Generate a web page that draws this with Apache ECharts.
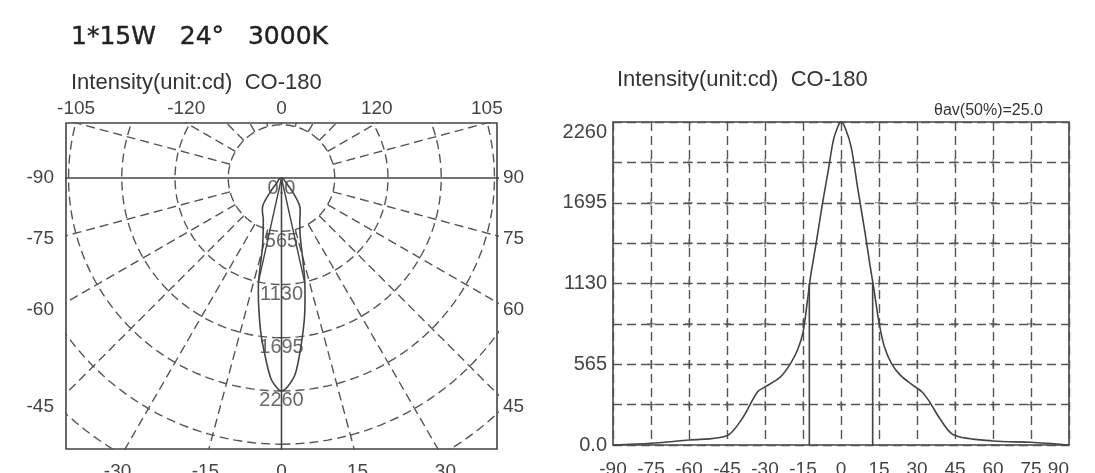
<!DOCTYPE html>
<html>
<head>
<meta charset="utf-8">
<script src="https://cdn.jsdelivr.net/npm/echarts@6/dist/echarts.min.js"></script>
<style>
html,body{margin:0;padding:0;background:#fff;}
#chart{width:1095px;height:473px;}
</style>
</head>
<body>
<div id="chart"></div>
<script>
// ---------- data ----------
const titleText = '1*15W   24°   3000K';
const subtitleText = 'Intensity(unit:cd)  CO-180';
const beamText = 'θav(50%)=25.0';

// luminous intensity distribution (C0-180 plane), angle in degrees, intensity in cd
const anglesDeg = [-90, -75, -60, -45, -39, -33, -30, -24, -20, -17, -15, -13.5, -12, -10, -7.5, -5, -3, -1, 0,
  1.5, 4, 6.5, 9.5, 11.5, 13, 15, 17, 20, 23.5, 27.5, 32, 35, 39, 44.5, 60, 75, 90];
const intensityCd = [0, 12, 35, 65, 185, 371, 406, 475, 568, 672, 788, 974, 1182, 1391, 1669, 1924, 2133, 2237, 2260,
  2225, 2086, 1808, 1484, 1252, 1089, 858, 695, 568, 487, 429, 371, 301, 185, 70, 28, 19, 0];

const beamAngle = 25;          // full beam angle at 50%
const halfIntensity = 1130;    // 50% of peak

// polar chart
const ringValues = [565, 1130, 1695, 2260, 2825, 3390, 3955];
const ringLabelValues = [0, 565, 1130, 1695, 2260];
const ringLabelTexts = ['0.0', '565', '1130', '1695', '2260'];
const radialAngles = [-165, -150, -135, -120, -105, -75, -60, -45, -30, -15, 15, 30, 45, 60, 75, 105, 120, 135, 150, 165, 180];
const solidAngles = [0, -90, 90];
const topLabelAngles = [-105, -120, 180, 120, 105];
const topLabelTexts = ['-105', '-120', '0', '120', '105'];
const leftLabelAngles = [-90, -75, -60, -45];
const leftLabelTexts = ['-90', '-75', '-60', '-45'];
const rightLabelAngles = [90, 75, 60, 45];
const rightLabelTexts = ['90', '75', '60', '45'];
const bottomLabelAngles = [-30, -15, 0, 15, 30];
const bottomLabelTexts = ['-30', '-15', '0', '15', '30'];

// cartesian chart
const xTickMin = -90, xTickMax = 90, xTickStep = 15;
const yMax = 2260, yGridStep = 282.5, yLabelStep = 565;

// ---------- layout ----------
const FONT = '"Liberation Sans", Arial, sans-serif';
const LINE = '#444';
const GRID_COLOR = '#555';
const TEXT = '#444';
// polar box extents in cd units (equal scale both directions)
const XH = 2287, YT = 584, YB = -2876;
const SIDE_LABEL_R = 2425, BOTTOM_LABEL_R = 3013;  // lines along which side / bottom labels sit
const FAR = 8000;

const rad = d => d * Math.PI / 180;
const polarPt = (r, a) => [r * Math.sin(rad(a)), -r * Math.cos(rad(a))];

function lookup(vals, texts) {
  return function (v) {
    let best = 0;
    for (let i = 1; i < vals.length; i++) if (Math.abs(vals[i] - v) < Math.abs(vals[best] - v)) best = i;
    return texts[best];
  };
}

const bottomVals = bottomLabelAngles.map(a => BOTTOM_LABEL_R * Math.tan(rad(a)));
const topVals = topLabelAngles.map(a => -YT * Math.tan(rad(a)));
const leftVals = leftLabelAngles.map(a => SIDE_LABEL_R * Math.cos(rad(a)) / Math.sin(rad(a)));
const rightVals = rightLabelAngles.map(a => -SIDE_LABEL_R * Math.cos(rad(a)) / Math.sin(rad(a)));

const dashStyle = { color: GRID_COLOR, width: 1.4, type: [9, 5] };
const series = [];

// rings
ringValues.forEach(r => {
  const pts = [];
  for (let a = 0; a <= 360; a += 2) pts.push(polarPt(r, a));
  series.push({ type: 'line', xAxisIndex: 0, yAxisIndex: 0, data: pts, symbol: 'none', silent: true,
    lineStyle: dashStyle, clip: true, z: 1 });
});
// dashed radial lines
radialAngles.forEach(a => {
  series.push({ type: 'line', xAxisIndex: 0, yAxisIndex: 0, data: [polarPt(ringValues[0], a), polarPt(FAR, a)],
    symbol: 'none', silent: true, lineStyle: dashStyle, clip: true, z: 1 });
});
// solid axes lines
solidAngles.forEach(a => {
  series.push({ type: 'line', xAxisIndex: 0, yAxisIndex: 0, data: [[0, 0], polarPt(FAR, a)],
    symbol: 'none', silent: true, lineStyle: { color: LINE, width: 1.6 }, clip: true, z: 2 });
});
// beam lines at +-beamAngle/2
[-beamAngle / 2, beamAngle / 2].forEach(a => {
  series.push({ type: 'line', xAxisIndex: 0, yAxisIndex: 0, data: [[0, 0], polarPt(halfIntensity, a)],
    symbol: 'none', silent: true, lineStyle: { color: LINE, width: 1.4 }, z: 3 });
});
// polar lobe
series.push({ type: 'line', xAxisIndex: 0, yAxisIndex: 0, smooth: 0.3, symbol: 'none', silent: true,
  data: anglesDeg.map((a, i) => polarPt(intensityCd[i], a)), lineStyle: { color: LINE, width: 1.6 }, z: 4 });
// ring labels
series.push({ type: 'scatter', xAxisIndex: 0, yAxisIndex: 0, symbolSize: 0, silent: true, z: 5,
  data: ringLabelValues.map((v, i) => ({ value: [0, -v], label: { formatter: ringLabelTexts[i] } })),
  label: { show: true, position: 'bottom', distance: 0, fontFamily: FONT, fontSize: 20, color: TEXT } });

// right chart
series.push({ type: 'line', xAxisIndex: 2, yAxisIndex: 2, smooth: 0.3, symbol: 'none', silent: true,
  data: anglesDeg.map((a, i) => [a, intensityCd[i]]), lineStyle: { color: LINE, width: 1.6 }, z: 4 });
[-beamAngle / 2, beamAngle / 2].forEach(a => {
  series.push({ type: 'line', xAxisIndex: 2, yAxisIndex: 2, symbol: 'none', silent: true,
    data: [[a, 0], [a, halfIntensity]], lineStyle: { color: LINE, width: 1.6 }, z: 3 });
});
// small "+" marks at grid intersections
const crossPts = [];
for (let x = xTickMin + xTickStep; x < xTickMax; x += xTickStep)
  for (let y = yGridStep; y < yMax - 1e-6; y += yGridStep) crossPts.push([x, y]);
series.push({ type: 'scatter', xAxisIndex: 2, yAxisIndex: 2, silent: true, z: 2, data: crossPts,
  symbol: 'path://M4.3,0H5.7V4.3H10V5.7H5.7V10H4.3V5.7H0V4.3H4.3Z', symbolSize: 8, itemStyle: { color: '#555' } });

const hiddenAxisBase = { type: 'value', gridIndex: 0, splitLine: { show: false }, axisLine: { show: false },
  axisTick: { show: false } };
const labelBase = { fontFamily: FONT, fontSize: 19, color: TEXT, showMinLabel: true, showMaxLabel: true };

const option = {
  animation: false,
  backgroundColor: '#fff',
  title: [
    { text: titleText, left: 66, top: 20, textStyle: { fontFamily: '"DejaVu Sans", sans-serif', fontSize: 25, fontWeight: 'normal', color: '#222', textBorderColor: '#222', textBorderWidth: 0.4 } },
    { text: subtitleText, left: 66, top: 67, textStyle: { fontFamily: FONT, fontSize: 22, fontWeight: 'normal', color: '#333' } },
    { text: subtitleText, left: 612, top: 64, textStyle: { fontFamily: FONT, fontSize: 22, fontWeight: 'normal', color: '#333' } },
    { text: beamText, right: 47, top: 98, textStyle: { fontFamily: FONT, fontSize: 16, fontWeight: 'normal', color: '#333' } }
  ],
  grid: [
    { left: 66, top: 123, width: 431, height: 326, show: true, borderColor: LINE, borderWidth: 1.6,
      backgroundColor: 'transparent', containLabel: false, outerBoundsMode: 'none' },
    { left: 613, top: 122, width: 456, height: 323, show: true, borderColor: LINE, borderWidth: 1.6,
      backgroundColor: 'transparent', containLabel: false, outerBoundsMode: 'none' }
  ],
  xAxis: [
    Object.assign({}, hiddenAxisBase, { position: 'bottom', min: -XH, max: XH,
      axisLabel: Object.assign({}, labelBase, { margin: 13, customValues: bottomVals, formatter: lookup(bottomVals, bottomLabelTexts) }) }),
    Object.assign({}, hiddenAxisBase, { position: 'top', min: -XH, max: XH,
      axisLabel: Object.assign({}, labelBase, { margin: 5, customValues: topVals, formatter: lookup(topVals, topLabelTexts) }) }),
    { type: 'value', gridIndex: 1, min: xTickMin, max: xTickMax, interval: xTickStep,
      axisLine: { show: false }, axisTick: { show: false },
      axisLabel: Object.assign({}, labelBase, { margin: 15, alignMaxLabel: 'right' }),
      splitLine: { show: true, lineStyle: dashStyle } }
  ],
  yAxis: [
    Object.assign({}, hiddenAxisBase, { position: 'left', min: YB, max: YT,
      axisLabel: Object.assign({}, labelBase, { margin: 12, customValues: leftVals, formatter: lookup(leftVals, leftLabelTexts) }) }),
    Object.assign({}, hiddenAxisBase, { position: 'right', min: YB, max: YT,
      axisLabel: Object.assign({}, labelBase, { margin: 6, customValues: rightVals, formatter: lookup(rightVals, rightLabelTexts) }) }),
    { type: 'value', gridIndex: 1, min: 0, max: yMax, interval: yGridStep,
      axisLine: { show: false }, axisTick: { show: false },
      axisLabel: Object.assign({}, labelBase, { fontSize: 20, margin: 6, verticalAlignMaxLabel: 'top',
        formatter: v => (Math.abs(v / yLabelStep - Math.round(v / yLabelStep)) < 1e-6 ? (v === 0 ? '0.0' : String(v)) : '') }),
      splitLine: { show: true, lineStyle: dashStyle } }
  ],
  series: series
};

const chart = echarts.init(document.getElementById('chart'), null, { renderer: 'canvas' });
chart.setOption(option);
</script>
</body>
</html>
